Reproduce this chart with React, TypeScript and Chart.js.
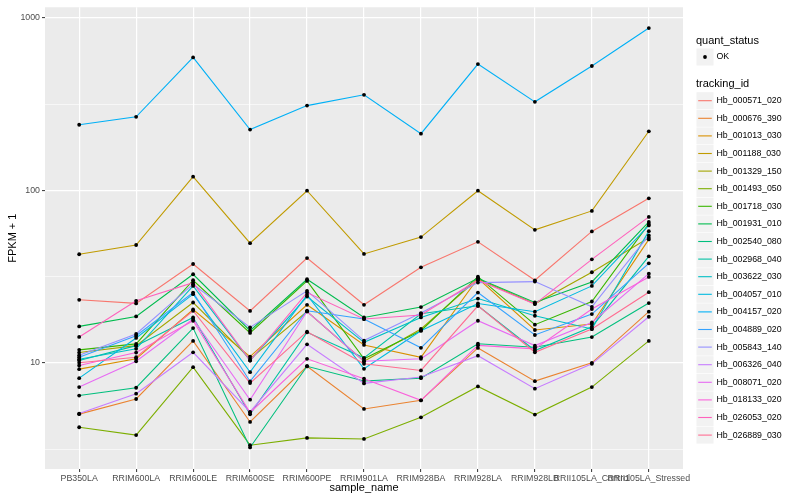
import { useEffect, useRef } from "react";
import { Chart, registerables } from "chart.js";

Chart.register(...registerables);

const FONT = "'Liberation Sans', Arial, Helvetica, sans-serif";

const categories = [
  "PB350LA",
  "RRIM600LA",
  "RRIM600LE",
  "RRIM600SE",
  "RRIM600PE",
  "RRIM901LA",
  "RRIM928BA",
  "RRIM928LA",
  "RRIM928LB",
  "RRII105LA_Control",
  "RRII105LA_Stressed",
];

const trackingIds = [
  "Hb_000571_020",
  "Hb_000676_390",
  "Hb_001013_030",
  "Hb_001188_030",
  "Hb_001329_150",
  "Hb_001493_050",
  "Hb_001718_030",
  "Hb_001931_010",
  "Hb_002540_080",
  "Hb_002968_040",
  "Hb_003622_030",
  "Hb_004057_010",
  "Hb_004157_020",
  "Hb_004889_020",
  "Hb_005843_140",
  "Hb_006326_040",
  "Hb_008071_020",
  "Hb_018133_020",
  "Hb_026053_020",
  "Hb_026889_030",
];

const colors = [
  "#F8766D", "#EA8331", "#D89000", "#C09B00", "#A3A500",
  "#7CAE00", "#39B600", "#00BB4E", "#00BF7D", "#00C1A3",
  "#00BFC4", "#00BAE0", "#00B0F6", "#35A2FF", "#9590FF",
  "#C77CFF", "#E76BF3", "#FA62DB", "#FF62BC", "#FF6C91",
];

// FPKM + 1 per sample, in category order
const hb000571 = [23.2, 22.1, 37.4, 20.0, 40.5, 21.7, 35.8, 50.3, 30.1, 57.8, 89.9];
const hb000676 = [5.04, 6.17, 13.4, 4.54, 9.55, 5.4, 6.06, 12.2, 7.83, 10.0, 19.8];
const hb001013 = [9.19, 10.55, 20.38, 10.87, 21.7, 12.7, 10.77, 30.93, 15.5, 16.79, 51.94];
const hb001188 = [42.6, 48.2, 120, 49.4, 99.5, 42.8, 53.6, 99.5, 59, 76, 220];
const hb001329 = [11.47, 12.58, 22.37, 10.55, 19.85, 10.21, 15.71, 30.64, 21.99, 33.5, 53.06];
const hb001493 = [4.23, 3.81, 9.43, 3.33, 3.67, 3.62, 4.83, 7.3, 5.01, 7.23, 13.4];
const hb001718 = [11.89, 12.87, 30.12, 14.9, 29.85, 10.55, 15.36, 31.6, 16.63, 22.67, 63.91];
const hb001931 = [16.26, 18.57, 32.63, 15.36, 30.52, 18.33, 21.05, 30.93, 22.37, 29.45, 65.63];
const hb002540 = [6.46, 7.17, 15.9, 3.23, 9.55, 7.84, 8.15, 12.9, 12.3, 14.1, 22.2];
const hb002968 = [10.31, 12.58, 18.33, 5.03, 15.02, 10.69, 19.26, 21.41, 11.78, 16.2, 41.44];
const hb003622 = [10.49, 12.05, 27.93, 10.31, 24.23, 13.15, 18.33, 23.59, 18.75, 15.71, 58.0];
const hb004057 = [8.15, 13.94, 25.01, 8.83, 24.78, 9.23, 15.36, 22.08, 19.77, 27.93, 62.57];
const hb004157 = [240, 267, 590, 225, 310, 358, 213, 540, 326, 526, 873];
const hb004889 = [10.77, 14.37, 25.55, 7.8, 20.04, 17.94, 12.21, 25.55, 14.5, 19.18, 37.76];
const hb005843 = [11.06, 14.7, 28.57, 16.05, 26.14, 13.45, 19.43, 29.18, 29.57, 21.13, 54.79];
const hb006326 = [5.08, 6.62, 11.5, 5.19, 12.8, 7.6, 8.27, 11.0, 7.08, 9.87, 18.5];
const hb008071 = [7.23, 10.21, 17.94, 6.11, 19.85, 10.21, 10.55, 17.54, 12.58, 17.15, 32.89];
const hb018133 = [9.65, 11.47, 17.54, 5.15, 10.55, 8.09, 6.06, 12.63, 12.05, 20.49, 31.47];
const hb026053 = [14.13, 22.88, 29.18, 10.31, 25.55, 17.94, 18.92, 30.12, 21.9, 39.82, 70.15];
const hb026889 = [10.0, 10.77, 20.04, 7.63, 15.16, 9.87, 9.03, 21.41, 11.51, 15.71, 25.68];

const seriesValues = [
  hb000571, hb000676, hb001013, hb001188, hb001329,
  hb001493, hb001718, hb001931, hb002540, hb002968,
  hb003622, hb004057, hb004157, hb004889, hb005843,
  hb006326, hb008071, hb018133, hb026053, hb026889,
];

const yTickValues = [10, 100, 1000];
const yMinorValues = [3.1623, 31.623, 316.23];
const yMin = 2.423;
const yMax = 1152;

const isMajorLog = (v: number) =>
  Math.abs(Math.log10(v) - Math.round(Math.log10(v))) < 1e-4;

const bgPlugin = {
  id: "ggBackground",
  beforeDraw(chart: any) {
    const { ctx, chartArea } = chart;
    ctx.save();
    ctx.fillStyle = "#FFFFFF";
    ctx.fillRect(0, 0, chart.width, chart.height);
    ctx.fillStyle = "#EBEBEB";
    ctx.fillRect(
      chartArea.left,
      chartArea.top,
      chartArea.right - chartArea.left,
      chartArea.bottom - chartArea.top
    );
    ctx.restore();
  },
};

const legendPlugin = {
  id: "ggLegend",
  afterDraw(chart: any) {
    const ctx = chart.ctx as CanvasRenderingContext2D;
    const x0 = 696.5;
    ctx.save();
    ctx.textAlign = "left";
    ctx.textBaseline = "middle";
    ctx.fillStyle = "#000000";
    ctx.font = `11px ${FONT}`;
    ctx.fillText("quant_status", 696, 41);
    ctx.fillStyle = "#F2F2F2";
    ctx.fillRect(x0, 48.5, 17, 17);
    ctx.fillStyle = "#000000";
    ctx.beginPath();
    ctx.arc(x0 + 8.5, 57, 1.9, 0, Math.PI * 2);
    ctx.fill();
    ctx.font = `8.8px ${FONT}`;
    ctx.fillText("OK", 716.5, 57);
    ctx.font = `11px ${FONT}`;
    ctx.fillText("tracking_id", 696, 84);
    trackingIds.forEach((id, i) => {
      const cy = 100.7 + i * 17.6;
      ctx.fillStyle = "#F2F2F2";
      ctx.fillRect(x0, cy - 8.5, 17, 17);
      ctx.strokeStyle = colors[i];
      ctx.lineWidth = 1.1;
      ctx.beginPath();
      ctx.moveTo(x0 + 1.7, cy);
      ctx.lineTo(x0 + 15.3, cy);
      ctx.stroke();
      ctx.fillStyle = "#000000";
      ctx.font = `8.8px ${FONT}`;
      ctx.fillText(id, 716.5, cy);
    });
    ctx.restore();
  },
};

export default function App() {
  const ref = useRef<HTMLCanvasElement>(null);

  useEffect(() => {
    const canvas = ref.current;
    if (!canvas) return;
    Chart.defaults.font.family = FONT;

    const lineSets = seriesValues.map((vals, i) => ({
      type: "line" as const,
      label: trackingIds[i],
      data: vals.map((v, j) => ({ x: j, y: v })),
      borderColor: colors[i],
      backgroundColor: colors[i],
      borderWidth: 1.1,
      pointRadius: 0,
      pointHoverRadius: 0,
      tension: 0,
      fill: false,
      order: seriesValues.length - i,
    }));

    const pointSet = {
      type: "line" as const,
      label: "OK",
      data: seriesValues.flatMap((vals) => vals.map((v, j) => ({ x: j, y: v }))),
      showLine: false,
      borderColor: "#000000",
      backgroundColor: "#000000",
      pointBackgroundColor: "#000000",
      pointBorderWidth: 0,
      pointRadius: 1.9,
      pointHoverRadius: 1.9,
      order: -1,
    };

    const chart = new Chart(canvas, {
      type: "line",
      data: { datasets: [pointSet as any, ...lineSets] },
      options: {
        responsive: false,
        animation: false,
        events: [],
        layout: { padding: { left: 0, right: 117, top: 5, bottom: 0 } },
        plugins: {
          legend: { display: false },
          tooltip: { enabled: false },
        },
        scales: {
          x: {
            type: "linear",
            min: -0.6,
            max: 10.6,
            afterBuildTicks: (s: any) => {
              s.ticks = categories.map((_, i) => ({ value: i }));
            },
            afterFit: (s: any) => {
              s.height = 31;
            },
            ticks: {
              autoSkip: false,
              maxRotation: 0,
              minRotation: 0,
              padding: 1,
              color: "#4D4D4D",
              font: { size: 8.8 },
              callback: (v: any) => categories[v as number] ?? "",
            },
            grid: {
              color: "#FFFFFF",
              lineWidth: 1.2,
              drawTicks: true,
              tickLength: 3,
              tickColor: "#333333",
              tickWidth: 1,
            },
            border: { display: false },
            title: {
              display: true,
              text: "sample_name",
              color: "#000000",
              font: { size: 11 },
              padding: { top: 0, bottom: 5 },
            },
          },
          y: {
            type: "logarithmic",
            min: yMin,
            max: yMax,
            afterBuildTicks: (s: any) => {
              s.ticks = [...yMinorValues, ...yTickValues]
                .sort((a, b) => a - b)
                .map((v) => ({ value: v }));
            },
            afterFit: (s: any) => {
              s.width = 45;
            },
            ticks: {
              autoSkip: false,
              padding: 2,
              color: "#4D4D4D",
              font: { size: 8.8 },
              callback: (v: any) => (isMajorLog(Number(v)) ? String(Math.round(Number(v))) : ""),
            },
            grid: {
              color: "#FFFFFF",
              lineWidth: (c: any) => (c.tick && isMajorLog(c.tick.value) ? 1.2 : 0.6),
              drawTicks: true,
              tickLength: 3,
              tickWidth: 1,
              tickColor: (c: any) =>
                c.tick && isMajorLog(c.tick.value) ? "#333333" : "rgba(0,0,0,0)",
            },
            border: { display: false },
            title: {
              display: true,
              text: "FPKM + 1",
              color: "#000000",
              font: { size: 11 },
              padding: { top: 6, bottom: 0 },
            },
          },
        },
      },
      plugins: [bgPlugin, legendPlugin],
    });

    return () => chart.destroy();
  }, []);

  return (
    <div style={{ position: "absolute", left: 0, top: 0, width: 800, height: 500, background: "#FFFFFF" }}>
      <canvas ref={ref} width={800} height={500} style={{ display: "block", width: 800, height: 500 }} />
    </div>
  );
}
